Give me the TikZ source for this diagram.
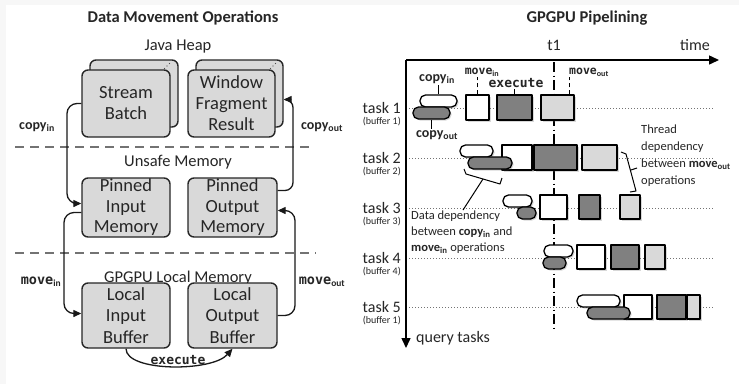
\documentclass[tikz,border=0pt]{standalone}
\usepackage{fontspec}
\setmainfont{Carlito}
\setmonofont{DejaVu Sans Mono}
\usetikzlibrary{arrows.meta,shadows,calc}
\newcommand{\fs}[2]{\fontsize{#1}{#2}\selectfont}
\newcommand{\cp}[1]{\textbf{copy}\textsubscript{\bfseries #1}}
\newcommand{\mv}[1]{{\ttfamily\bfseries move}\textsubscript{\bfseries #1}}
\newcommand{\mvs}[1]{\textbf{move}\textsubscript{\bfseries #1}}
\newcommand{\exe}{{\ttfamily\bfseries execute}}
\definecolor{bgframe}{HTML}{F7F7F7}
\tikzset{
  sz/.style 2 args={minimum width=#1pt, minimum height=#2pt},
  membox/.style={draw=black!85, line width=1.4pt, fill=gray!30, rounded corners=6pt, align=center, font=\fs{18.5}{21}},
  flow/.style={draw=black!90, line width=1.3pt, rounded corners=10pt, -{Triangle[length=8pt,width=7pt]}},
  sep/.style={draw=black!55, line width=1.4pt, dash pattern=on 9pt off 6pt},
  ttl/.style={font=\fs{16.5}{18}\bfseries},
  lbl/.style={font=\fs{16.5}{18}},
  opl/.style={font=\fs{14}{16}},
  tbox/.style={draw=black, line width=1.3pt, drop shadow={shadow xshift=1.5pt, shadow yshift=-1.5pt, opacity=0.25, fill=black!60}},
  mvin/.style={tbox, fill=white},
  ex/.style={tbox, fill=gray},
  mvout/.style={tbox, fill=gray!30},
  pillw/.style={tbox, fill=white, rounded corners=5.5pt},
  pilld/.style={tbox, fill=gray, rounded corners=5.5pt},
  axis/.style={draw=black, line width=1.5pt, -{Triangle[length=10pt,width=9pt]}},
  rowline/.style={draw=black!55, line width=0.9pt, dash pattern=on 1pt off 2pt},
  tline/.style={draw=black, line width=1.4pt, dash pattern=on 10pt off 3.5pt on 1pt off 3.5pt},
  tickd/.style={draw=black, line width=1.2pt, dash pattern=on 4pt off 3pt},
  ticks/.style={draw=black, line width=1.2pt},
  brk/.style={draw=black, line width=1pt},
  tsk/.style={anchor=east, font=\fs{16}{16}},
  buf/.style={anchor=east, font=\fs{10}{10}},
  note/.style={anchor=north west, align=left, font=\fs{12.5}{16}}
}
\begin{document}
\begin{tikzpicture}[x=1pt,y=-1pt,line join=round,every node/.style={text=black!85, inner sep=0pt}]
\useasboundingbox (0,0) rectangle (739,384);
\fill[bgframe] (0,0) rectangle (739,384);
\fill[white] (6,5) rectangle (739,384);

% ---------------- left panel ----------------
\node[ttl] (lt) at (183,18) {Data Movement Operations};
\node[lbl] (jh) at (178,47) {Java Heap};
\node[lbl] (um) at (178,162) {Unsafe Memory};
\node[lbl] (gl) at (178,278) {GPGPU Local Memory};

\draw[sep] (15,147) -- (313,147);
\draw[sep] (15,253) -- (316,253);

\node[membox, sz={88}{67}] (sbb) at (134,93.5) {};
\fill[black!70] (164.5,68.5) circle[radius=0.7pt] (167,66) circle[radius=0.7pt] (169.5,63.5) circle[radius=0.7pt];
\node[membox, sz={88}{67}] (sb) at (126,103.5) {Stream\\Batch};
\node[membox, sz={87}{67}] (wfb) at (239.5,93.5) {};
\fill[black!70] (270.5,68.5) circle[radius=0.7pt] (273,66) circle[radius=0.7pt] (275.5,63.5) circle[radius=0.7pt];
\node[membox, sz={87}{67}] (wf) at (231.5,103.5) {Window\\Fragment\\Result};

\node[membox, sz={88}{59}, font=\fs{18.5}{20.5}] (pim) at (126,207.5) {Pinned\\Input\\Memory};
\node[membox, sz={89}{59}, font=\fs{18.5}{20.5}] (pom) at (232.5,207.5) {Pinned\\Output\\Memory};
\node[membox, sz={88}{65}, font=\fs{18.5}{21.5}] (lib) at (126,315.5) {Local\\Input\\Buffer};
\node[membox, sz={89}{65}, font=\fs{18.5}{21.5}] (lob) at (232.5,315.5) {Local\\Output\\Buffer};

\coordinate (cin) at (67,150);
\coordinate (min) at (64,260);
\coordinate (mout) at (295,260);
\coordinate (cout) at (293,150);
\draw[flow] (sb.west) -| (cin) |- ([yshift=4pt]pim.west);
\draw[flow] ([yshift=-5pt]pim.west) -| (min) |- ([yshift=2pt]lib.west);
\draw[flow] (lob.east) -| (mout) |- ([yshift=-3pt]pom.east);
\draw[flow, rounded corners=8pt] ([yshift=17pt]pom.east) -| (cout) |- ([yshift=-6pt]wfb.east);
\draw[flow, rounded corners=0pt] (lib.south) .. controls (126,372) and (212,372) .. (lob.south);

\node[opl] (lcin) at (37,127) {\cp{in}};
\node[opl] (lcout) at (322,127) {\cp{out}};
\node[font=\fs{13.5}{16}] (lmin) at (41,282) {\mv{in}};
\node[font=\fs{13.5}{16}] (lmout) at (322,282) {\mv{out}};
\node[font=\fs{13}{14}] (lexe) at (178,360) {\exe};

% ---------------- right panel ----------------
\node[ttl] (rt) at (587,18) {GPGPU Pipelining};
\coordinate (O) at (406,60);
\coordinate (T) at (719,60);
\coordinate (Q) at (406,348);
\coordinate (t1a) at (554,62);
\coordinate (t1b) at (554,328);
\node[lbl, font=\fs{16}{18}] (t1) at (554,45) {t1};
\node[lbl, font=\fs{16}{18}] (time) at (695,45) {time};
\node[lbl, font=\fs{16}{18}, anchor=west] (qt) at (416,338) {query tasks};

\foreach \y in {108,158,208,258,307} {\draw[rowline] (409,\y) -- (713,\y);}
\draw[tline] (t1a) -- (t1b);
\draw[axis] (O) -- (T);
\draw[axis] (O) -- (Q);

\node[tsk] (k1) at (401,108) {task 1}; \node[buf] (b1) at (401,122) {(buffer 1)};
\node[tsk] (k2) at (401,158) {task 2}; \node[buf] (b2) at (401,172) {(buffer 2)};
\node[tsk] (k3) at (401,208) {task 3}; \node[buf] (b3) at (401,222) {(buffer 3)};
\node[tsk] (k4) at (401,258) {task 4}; \node[buf] (b4) at (401,272) {(buffer 4)};
\node[tsk] (k5) at (401,307) {task 5}; \node[buf] (b5) at (401,321) {(buffer 1)};

% task 1
\node[mvin, sz={23}{25}] (m1) at (477.5,107.5) {};
\node[ex, sz={35}{25}] (e1) at (514.5,107.5) {};
\node[mvout, sz={33}{25}] (o1) at (557.5,107.5) {};
\node[pillw, sz={37}{12}] (w1) at (438.5,101) {};
\node[pilld, sz={37}{12}] (d1) at (431.5,113) {};
% task 2
\node[mvin, sz={30}{25}] (m2) at (517,157.5) {};
\node[ex, sz={43}{25}] (e2) at (555.5,157.5) {};
\node[mvout, sz={35}{25}] (o2) at (599.5,157.5) {};
\node[pillw, sz={33}{12}] (w2) at (476.5,151) {};
\node[pilld, sz={44}{12}] (d2) at (490,163) {};
% task 3
\node[mvin, sz={27}{24}] (m3) at (553.5,207) {};
\node[ex, sz={21}{24}] (e3) at (589.5,207) {};
\node[mvout, sz={20}{24}] (o3) at (630,207) {};
\node[pillw, sz={29}{12}] (w3) at (517.5,201) {};
\node[pilld, sz={19}{12}] (d3) at (526.5,213) {};
% task 4
\node[mvin, sz={28}{24}] (m4) at (591,257) {};
\node[ex, sz={28}{24}] (e4) at (625,257) {};
\node[mvout, sz={20}{24}] (o4) at (655,257) {};
\node[pillw, sz={29}{12}] (w4) at (558.5,251) {};
\node[pilld, sz={23}{12}] (d4) at (554.5,263) {};
% task 5
\node[mvin, sz={28}{24}] (m5) at (638,307) {};
\node[ex, sz={29}{24}] (e5) at (671.5,307) {};
\node[mvout, sz={13}{24}] (o5) at (693.5,307) {};
\node[pillw, sz={43}{12}] (w5) at (598.5,301) {};
\node[pilld, sz={43}{12}] (d5) at (608.5,313) {};

% operation labels
\node[opl, inner sep=1pt] (rcin) at (437,79) {\cp{in}};
\node[font=\fs{11.5}{12}, inner sep=1pt] (rmin) at (482,72) {\mv{in}};
\node[font=\fs{13}{14}, inner sep=1pt] (rexe) at (516,83) {\exe};
\node[font=\fs{11.5}{12}, inner sep=1pt] (rmout) at (589,72) {\mv{out}};
\node[opl, inner sep=1pt] (rcout) at (437,135) {\cp{out}};
\draw[ticks] (w1.north) -- (w1.north |- rcin.south);
\draw[tickd] (m1.north) -- (m1.north |- rmin.south);
\draw[ticks] (e1.north) -- (e1.north |- rexe.south);
\draw[tickd] ([xshift=12pt]o1.north) -- ([xshift=12pt]o1.north |- rmout.south);
\draw[ticks] (d1.south) -- (d1.south |- rcout.north);

% data dependency
\node[note] (dd) at (411,211) {Data dependency\\between \cp{in} and\\\mvs{in} operations};
\coordinate (db1) at (464,169);
\coordinate (db2) at (466,174);
\coordinate (db3) at (500,184);
\coordinate (db4) at (502,178);
\coordinate (dbm) at (483,179);
\coordinate (dbp) at (463,210);
\draw[brk] (db1) -- (db2) -- (db3) -- (db4);
\draw[brk] (dbm) -- (dbp);

% thread dependency
\node[note, font=\fs{12.5}{16.8}] (td) at (641,125) {Thread\\dependency\\between \mvs{out}\\operations};
\coordinate (tb1) at (621,152);
\coordinate (tb2) at (626,154);
\coordinate (tb3) at (636,191);
\coordinate (tb4) at (630,192);
\coordinate (tbm) at (631,170);
\coordinate (tbp) at (637,168);
\draw[brk] (tb1) -- (tb2) -- (tb3) -- (tb4);
\draw[brk] (tbm) -- (tbp);
\end{tikzpicture}
\end{document}
